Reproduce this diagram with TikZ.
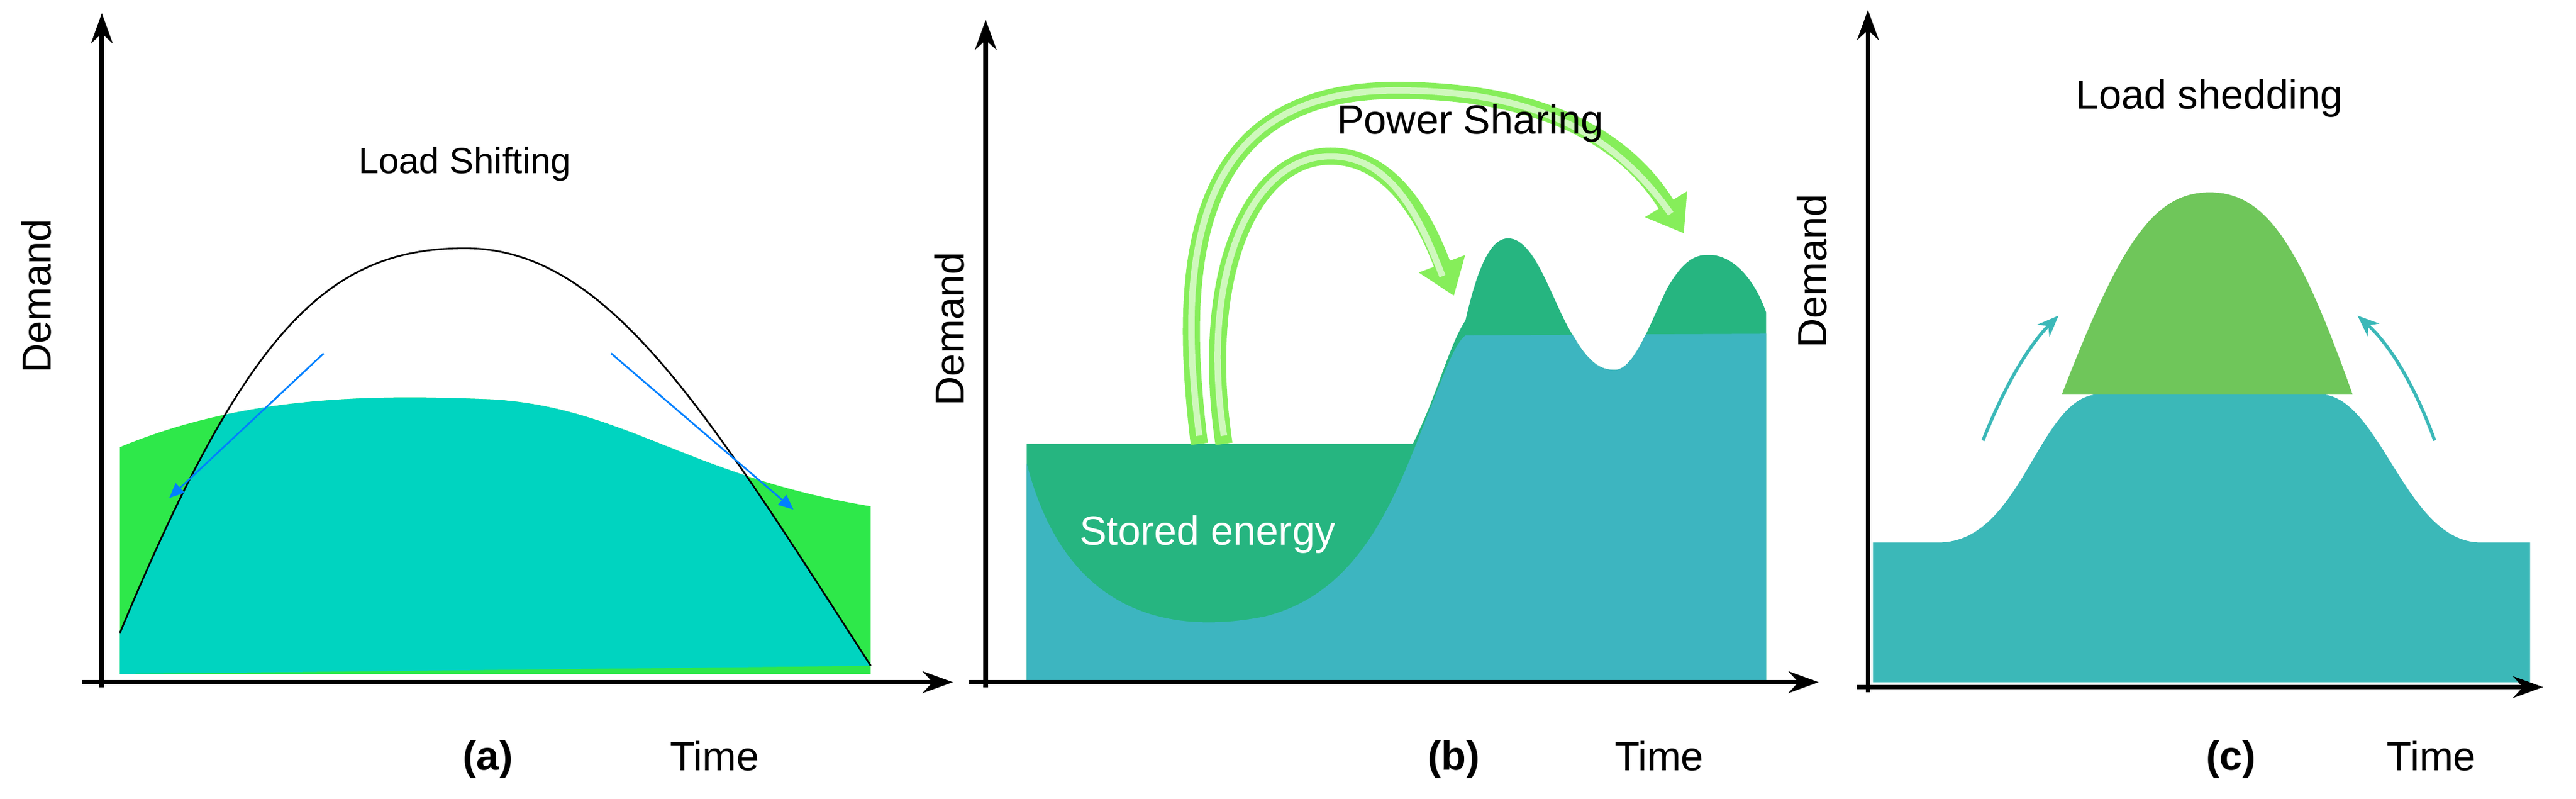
\documentclass[tikz,border=0pt]{standalone}
\usepackage{fontspec}
\setmainfont{Liberation Sans}
\usetikzlibrary{arrows.meta}
\definecolor{ga}{HTML}{2EE84A}
\definecolor{ca}{HTML}{00D4C0}
\definecolor{gb}{HTML}{26B580}
\definecolor{tb}{HTML}{3DB5C0}
\definecolor{gc}{HTML}{6FC65A}
\definecolor{tc}{HTML}{3BB8B8}
\definecolor{lg}{HTML}{86EE5A}
\begin{document}
\begin{tikzpicture}[x=0.02695cm,y=-0.02695cm,
  ax/.style={line width=2.2pt,-{Stealth[length=14pt,width=10pt]}},
  lab/.style={font=\fontsize{19}{22}\selectfont},
  bl/.style={font=\bfseries\fontsize{19}{22}\selectfont},
  pa/.style={draw=lg,line width=8pt,-{Triangle[length=16pt,width=22pt]}}]
\useasboundingbox (0,0) rectangle (1568,486);
% ---------- (a)
\fill[ga] (73,272) .. controls (150,240) and (230,240) .. (300,243) .. controls (380,248) and (420,290) .. (530,308) -- (530,410) -- (73,410) -- cycle;
\begin{scope}
\clip (73,410) -- (73,385) .. controls (150,200) and (200,151) .. (283,151) .. controls (370,151) and (430,250) .. (530,405) -- cycle;
\fill[ca] (73,272) .. controls (150,240) and (230,240) .. (300,243) .. controls (380,248) and (420,290) .. (530,308) -- (530,410) -- (73,410) -- cycle;
\end{scope}
\draw[black,line width=0.8pt] (73,385) .. controls (150,200) and (200,151) .. (283,151) .. controls (370,151) and (430,250) .. (530,405);
\coordinate (a1s) at (197,215); \coordinate (a1e) at (103,303);
\coordinate (a2s) at (372,215); \coordinate (a2e) at (483,310);
\draw[blue!50!cyan,line width=0.8pt,-{Triangle[length=7pt,width=6pt]}] (a1s) -- (a1e);
\draw[blue!50!cyan,line width=0.8pt,-{Triangle[length=7pt,width=6pt]}] (a2s) -- (a2e);
\coordinate (ao) at (62,415); \coordinate (ay) at (62,8); \coordinate (ax) at (580,415);
\draw[ax] (62,418) -- (ay); \draw[ax] (50,415) -- (ax);
\node[font=\rmfamily\fontsize{17}{20}\selectfont] (lsh) at (283,100) {Load Shifting};
\node[lab,rotate=90] (dema) at (22,180) {Demand};
\node[bl] (la) at (297,462) {(a)};
\node[lab] (ta) at (435,460) {Time};
% ---------- (b)
\path[save path=\outb] (625,415) -- (625,270) -- (860,270) .. controls (875,240) and (882,210) .. (892,195) .. controls (900,160) and (908,145) .. (918,145) .. controls (935,145) and (945,185) .. (958,205) .. controls (968,222) and (975,225) .. (983,225) .. controls (995,225) and (1005,195) .. (1015,175) .. controls (1025,158) and (1032,155) .. (1040,155) .. controls (1055,155) and (1068,170) .. (1075,190) -- (1075,415) -- cycle;
\fill[gb][use path=\outb];
\begin{scope}
\clip[use path=\outb];
\fill[tb] (625,282) .. controls (650,380) and (720,385) .. (770,375) .. controls (830,360) and (850,300) .. (870,250) .. controls (880,225) and (885,210) .. (892,204) -- (1080,203) -- (1080,420) -- (620,420) -- cycle;
\end{scope}
\coordinate (b1s) at (730,270); \coordinate (b1e) at (1025,142);
\coordinate (b2s) at (745,270); \coordinate (b2e) at (885,180);
\draw[pa] (b1s) .. controls (715,150) and (730,55) .. (850,55) .. controls (940,55) and (990,85) .. (b1e);
\draw[pa] (b2s) .. controls (730,170) and (760,95) .. (810,95) .. controls (850,95) and (870,140) .. (b2e);
\draw[lg!40!white,line width=3pt] (730,265) .. controls (715,150) and (730,55) .. (850,55) .. controls (940,55) and (985,85) .. (1017,130);
\draw[lg!40!white,line width=3pt] (745,265) .. controls (730,170) and (760,95) .. (810,95) .. controls (850,95) and (867,140) .. (878,168);
\draw[ax] (600,418) -- (600,12); \draw[ax] (590,415) -- (1107,415);
\node[lab] (psh) at (895,75) {Power Sharing};
\node[lab,white] (ste) at (735,325) {Stored energy};
\node[lab,rotate=90] (demb) at (578,200) {Demand};
\node[bl] (lb) at (885,462) {(b)};
\node[lab] (tb) at (1010,460) {Time};
% ---------- (c)
\fill[gc] (1255,240) .. controls (1290,150) and (1310,117) .. (1345,117) .. controls (1380,117) and (1400,150) .. (1432,240) -- cycle;
\fill[tc] (1140,415) -- (1140,330) -- (1180,330) .. controls (1230,330) and (1240,245) .. (1275,240) -- (1415,240) .. controls (1450,245) and (1465,330) .. (1510,330) -- (1540,330) -- (1540,415) -- cycle;
\coordinate (c1s) at (1207,268); \coordinate (c1e) at (1253,192);
\coordinate (c2s) at (1482,268); \coordinate (c2e) at (1435,192);
\draw[tc,line width=1.5pt,-{Stealth[length=10pt,width=8pt]}] (c1s) .. controls (1220,235) and (1235,210) .. (c1e);
\draw[tc,line width=1.5pt,-{Stealth[length=10pt,width=8pt]}] (c2s) .. controls (1470,235) and (1455,210) .. (c2e);
\draw[ax] (1137,421) -- (1137,6); \draw[ax] (1130,418) -- (1548,418);
\node[lab] (lsd) at (1345,60) {Load shedding};
\node[lab,rotate=90] (demc) at (1103,165) {Demand};
\node[bl] (lc) at (1358,462) {(c)};
\node[lab] (tcc) at (1480,460) {Time};
\end{tikzpicture}
\end{document}
